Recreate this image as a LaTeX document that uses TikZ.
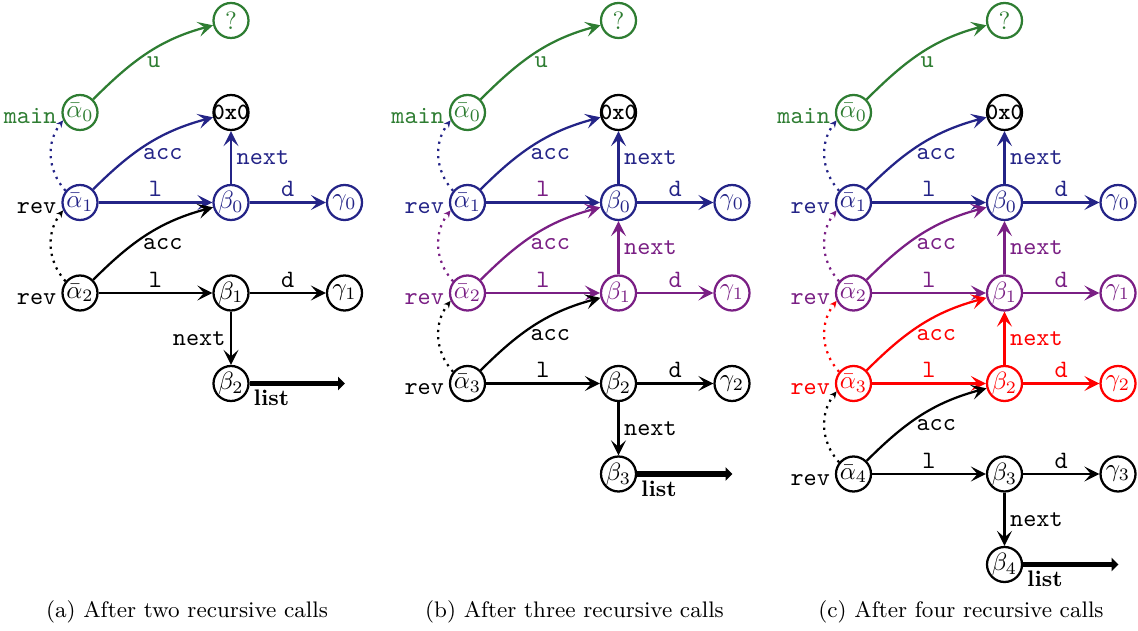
\documentclass[tikz,border=0pt]{standalone}
\usetikzlibrary{arrows.meta}
\definecolor{cG}{RGB}{46,125,50}
\definecolor{cB}{RGB}{36,36,135}
\definecolor{cP}{RGB}{122,31,132}
\definecolor{cR}{RGB}{255,0,0}
\newcommand\zxtext{\makebox[0pt]{\fontsize{9.3}{10}\selectfont\ttfamily\bfseries 0x0}}
\begin{document}
\begin{tikzpicture}[x=0.4pt,y=-0.4pt,
  nd/.style={circle,draw,line width=0.9pt,minimum size=14pt,inner sep=0pt},
  ed/.style={line width=0.9pt,-{Stealth[length=6pt,width=6pt,inset=2.6pt]}},
  dotarr/.style={dotted,line width=0.9pt,-{Stealth[length=2.8pt,width=2.6pt]}},
  listar/.style={line width=2.2pt,-{Triangle[length=2.8pt,width=5.4pt]}},
  lb/.style={font=\ttfamily,inner sep=1.8pt},
  lft/.style={font=\ttfamily,anchor=base east,inner sep=1.8pt,yshift=-4.6pt},
  lst/.style={font=\small\bfseries,anchor=north west,inner sep=0.5pt,yshift=-1pt},
  accl/.style={lb,shift={(15,10)}},
  captxt/.style={font=\small}]
\useasboundingbox (0,0) rectangle (1138,631);

% ================= panel (a) =================
\node[nd,cG] (a-q) at (231,20.5) {?};
\node[nd,cG] (a-a0) at (80,112.5) {$\bar\alpha_0$};
\node[nd] (a-z) at (231,112.5) {\zxtext};
\node[nd,cB] (a-a1) at (80,202.5) {$\bar\alpha_1$};
\node[nd,cB] (a-b0) at (231,202.5) {$\beta_0$};
\node[nd,cB] (a-g0) at (344.5,202.5) {$\gamma_0$};
\node[nd] (a-a2) at (80,293) {$\bar\alpha_2$};
\node[nd] (a-b1) at (231,293) {$\beta_1$};
\node[nd] (a-g1) at (344.5,293) {$\gamma_1$};
\node[nd] (a-b2) at (231,383.5) {$\beta_2$};
\coordinate (a-e) at (345,383.5);
\node[lft,cG] (a-m) at (a-a0.west) {main};
\node[lft] (a-r1) at (a-a1.west) {rev};
\node[lft] (a-r2) at (a-a2.west) {rev};
\draw[ed,cG] (a-a0) to[out=45,in=195] node[lb,shift={(6,9)}] {u} (a-q);
\draw[dotarr,cB] (a-a1.141) to[bend left=40] (a-a0.205);
\draw[ed,cB] (a-a1) to[out=45,in=195] node[accl] {acc} (a-z);
\draw[ed,cB] (a-a1) -- node[lb,above] {l} (a-b0);
\draw[ed,cB] (a-b0) -- node[lb,above] {d} (a-g0);
\draw[ed,cB] (a-b0) -- node[lb,right] {next} (a-z);
\draw[dotarr] (a-a2.141) to[bend left=40] (a-a1.205);
\draw[ed] (a-a2) to[out=45,in=195] node[accl] {acc} (a-b0);
\draw[ed] (a-a2) -- node[lb,above] {l} (a-b1);
\draw[ed] (a-b1) -- node[lb,above] {d} (a-g1);
\draw[ed] (a-b1) -- node[lb,left] {next} (a-b2);
\draw[listar] (a-b2) -- node[pos=0,lst] {list} (a-e);
\node[captxt] (a-cap) at (187,612) {(a) After two recursive calls};

% ================= panel (b) =================
\node[nd,cG] (b-q) at (618.5,20.5) {?};
\node[nd,cG] (b-a0) at (467.5,112.5) {$\bar\alpha_0$};
\node[nd] (b-z) at (618.5,112.5) {\zxtext};
\node[nd,cB] (b-a1) at (467.5,202.5) {$\bar\alpha_1$};
\node[nd,cB] (b-b0) at (618.5,202.5) {$\beta_0$};
\node[nd,cB] (b-g0) at (732,202.5) {$\gamma_0$};
\node[nd,cP] (b-a2) at (467.5,293) {$\bar\alpha_2$};
\node[nd,cP] (b-b1) at (618.5,293) {$\beta_1$};
\node[nd,cP] (b-g1) at (732,293) {$\gamma_1$};
\node[nd] (b-a3) at (467.5,383.5) {$\bar\alpha_3$};
\node[nd] (b-b2) at (618.5,383.5) {$\beta_2$};
\node[nd] (b-g2) at (732,383.5) {$\gamma_2$};
\node[nd] (b-b3) at (618.5,474) {$\beta_3$};
\coordinate (b-e) at (732.5,474);
\node[lft,cG] (b-m) at (b-a0.west) {main};
\node[lft,cB] (b-r1) at (b-a1.west) {rev};
\node[lft,cP] (b-r2) at (b-a2.west) {rev};
\node[lft] (b-r3) at (b-a3.west) {rev};
\draw[ed,cG] (b-a0) to[out=45,in=195] node[lb,shift={(6,9)}] {u} (b-q);
\draw[dotarr,cB] (b-a1.141) to[bend left=40] (b-a0.205);
\draw[ed,cB] (b-a1) to[out=45,in=195] node[accl] {acc} (b-z);
\draw[ed,cB] (b-a1) -- node[lb,above,text=cP] {l} (b-b0);
\draw[ed,cB] (b-b0) -- node[lb,above] {d} (b-g0);
\draw[ed,cB] (b-b0) -- node[lb,right] {next} (b-z);
\draw[dotarr,cP] (b-a2.141) to[bend left=40] (b-a1.205);
\draw[ed,cP] (b-a2) to[out=45,in=195] node[accl] {acc} (b-b0);
\draw[ed,cP] (b-a2) -- node[lb,above] {l} (b-b1);
\draw[ed,cP] (b-b1) -- node[lb,above] {d} (b-g1);
\draw[ed,cP] (b-b1) -- node[lb,right] {next} (b-b0);
\draw[dotarr] (b-a3.141) to[bend left=40] (b-a2.205);
\draw[ed] (b-a3) to[out=45,in=195] node[accl] {acc} (b-b1);
\draw[ed] (b-a3) -- node[lb,above] {l} (b-b2);
\draw[ed] (b-b2) -- node[lb,above] {d} (b-g2);
\draw[ed] (b-b2) -- node[lb,right] {next} (b-b3);
\draw[listar] (b-b3) -- node[pos=0,lst] {list} (b-e);
\node[captxt] (b-cap) at (574.5,612) {(b) After three recursive calls};

% ================= panel (c) =================
\node[nd,cG] (c-q) at (1004.5,20.5) {?};
\node[nd,cG] (c-a0) at (853.5,112.5) {$\bar\alpha_0$};
\node[nd] (c-z) at (1004.5,112.5) {\zxtext};
\node[nd,cB] (c-a1) at (853.5,202.5) {$\bar\alpha_1$};
\node[nd,cB] (c-b0) at (1004.5,202.5) {$\beta_0$};
\node[nd,cB] (c-g0) at (1118,202.5) {$\gamma_0$};
\node[nd,cP] (c-a2) at (853.5,293) {$\bar\alpha_2$};
\node[nd,cP] (c-b1) at (1004.5,293) {$\beta_1$};
\node[nd,cP] (c-g1) at (1118,293) {$\gamma_1$};
\node[nd,cR] (c-a3) at (853.5,383.5) {$\bar\alpha_3$};
\node[nd,cR] (c-b2) at (1004.5,383.5) {$\beta_2$};
\node[nd,cR] (c-g2) at (1118,383.5) {$\gamma_2$};
\node[nd] (c-a4) at (853.5,474) {$\bar\alpha_4$};
\node[nd] (c-b3) at (1004.5,474) {$\beta_3$};
\node[nd] (c-g3) at (1118,474) {$\gamma_3$};
\node[nd] (c-b4) at (1004.5,564.5) {$\beta_4$};
\coordinate (c-e) at (1118.5,564.5);
\node[lft,cG] (c-m) at (c-a0.west) {main};
\node[lft,cB] (c-r1) at (c-a1.west) {rev};
\node[lft,cP] (c-r2) at (c-a2.west) {rev};
\node[lft,cR] (c-r3) at (c-a3.west) {rev};
\node[lft] (c-r4) at (c-a4.west) {rev};
\draw[ed,cG] (c-a0) to[out=45,in=195] node[lb,shift={(6,9)}] {u} (c-q);
\draw[dotarr,cB] (c-a1.141) to[bend left=40] (c-a0.205);
\draw[ed,cB] (c-a1) to[out=45,in=195] node[accl] {acc} (c-z);
\draw[ed,cB] (c-a1) -- node[lb,above] {l} (c-b0);
\draw[ed,cB] (c-b0) -- node[lb,above] {d} (c-g0);
\draw[ed,cB] (c-b0) -- node[lb,right] {next} (c-z);
\draw[dotarr,cP] (c-a2.141) to[bend left=40] (c-a1.205);
\draw[ed,cP] (c-a2) to[out=45,in=195] node[accl] {acc} (c-b0);
\draw[ed,cP] (c-a2) -- node[lb,above] {l} (c-b1);
\draw[ed,cP] (c-b1) -- node[lb,above] {d} (c-g1);
\draw[ed,cP] (c-b1) -- node[lb,right] {next} (c-b0);
\draw[dotarr,cR] (c-a3.141) to[bend left=40] (c-a2.205);
\draw[ed,cR] (c-a3) to[out=45,in=195] node[accl] {acc} (c-b1);
\draw[ed,cR] (c-a3) -- node[lb,above] {l} (c-b2);
\draw[ed,cR] (c-b2) -- node[lb,above] {d} (c-g2);
\draw[ed,cR] (c-b2) -- node[lb,right] {next} (c-b1);
\draw[dotarr] (c-a4.141) to[bend left=40] (c-a3.205);
\draw[ed] (c-a4) to[out=45,in=195] node[accl] {acc} (c-b2);
\draw[ed] (c-a4) -- node[lb,above] {l} (c-b3);
\draw[ed] (c-b3) -- node[lb,above] {d} (c-g3);
\draw[ed] (c-b3) -- node[lb,right] {next} (c-b4);
\draw[listar] (c-b4) -- node[pos=0,lst] {list} (c-e);
\node[captxt] (c-cap) at (961,612) {(c) After four recursive calls};
\end{tikzpicture}
\end{document}
